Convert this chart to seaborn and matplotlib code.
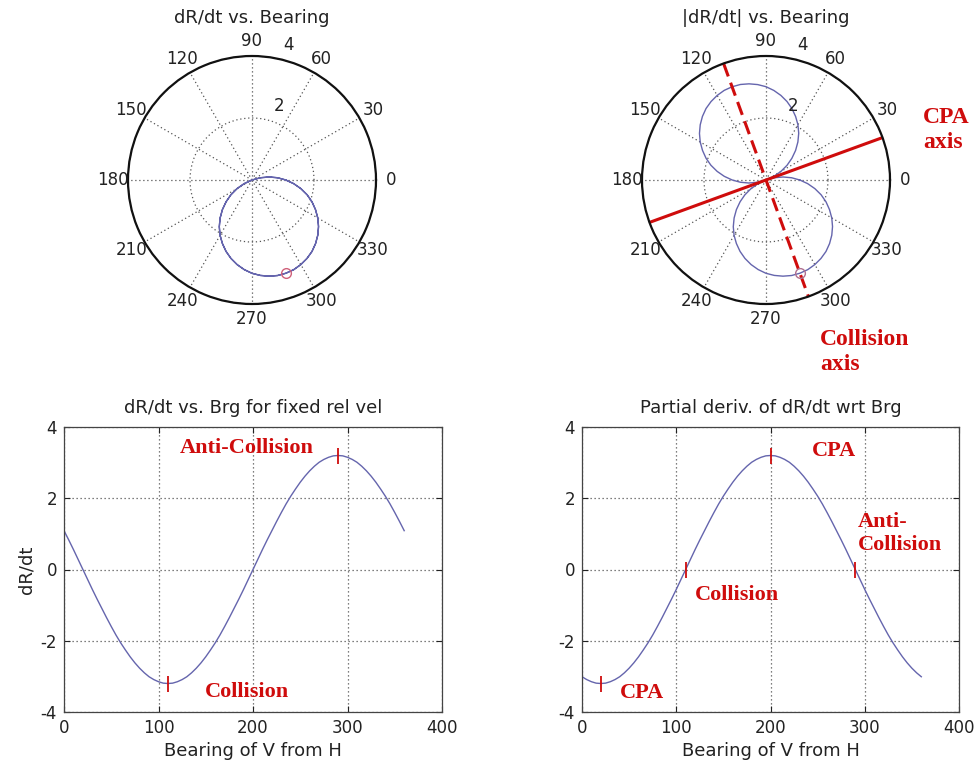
import numpy as np
import matplotlib
matplotlib.use("Agg")
import matplotlib.pyplot as plt
import seaborn as sns

# Bearing of V from H (deg) and the range rate dR/dt for a fixed relative velocity
bearing_deg = list(range(0, 361, 5))
range_rate = [
    1.09, 0.83, 0.56, 0.28, 0.00, -0.28, -0.56, -0.83, -1.09, -1.35,
    -1.60, -1.84, -2.06, -2.26, -2.45, -2.62, -2.77, -2.90, -3.01, -3.09,
    -3.15, -3.19, -3.20, -3.19, -3.15, -3.09, -3.01, -2.90, -2.77, -2.62,
    -2.45, -2.26, -2.06, -1.84, -1.60, -1.35, -1.09, -0.83, -0.56, -0.28,
    0.00, 0.28, 0.56, 0.83, 1.09, 1.35, 1.60, 1.84, 2.06, 2.26,
    2.45, 2.62, 2.77, 2.90, 3.01, 3.09, 3.15, 3.19, 3.20, 3.19,
    3.15, 3.09, 3.01, 2.90, 2.77, 2.62, 2.45, 2.26, 2.06, 1.84,
    1.60, 1.35, 1.09,
]
# Partial derivative of dR/dt with respect to bearing
range_rate_slope = [
    -3.01, -3.09, -3.15, -3.19, -3.20, -3.19, -3.15, -3.09, -3.01, -2.90,
    -2.77, -2.62, -2.45, -2.26, -2.06, -1.84, -1.60, -1.35, -1.09, -0.83,
    -0.56, -0.28, 0.00, 0.28, 0.56, 0.83, 1.09, 1.35, 1.60, 1.84,
    2.06, 2.26, 2.45, 2.62, 2.77, 2.90, 3.01, 3.09, 3.15, 3.19,
    3.20, 3.19, 3.15, 3.09, 3.01, 2.90, 2.77, 2.62, 2.45, 2.26,
    2.06, 1.84, 1.60, 1.35, 1.09, 0.83, 0.56, 0.28, 0.00, -0.28,
    -0.56, -0.83, -1.09, -1.35, -1.60, -1.84, -2.06, -2.26, -2.45, -2.62,
    -2.77, -2.90, -3.01,
]

# Highlighted points
rate_mark_brg = [110, 290]
rate_mark_val = [-3.20, 3.20]
slope_mark_brg = [20, 110, 200, 290]
slope_mark_val = [-3.20, 0.00, 3.20, 0.00]
polar_mark_brg = [290]
polar_mark_val = [3.20]

# CPA / collision axes shown on the |dR/dt| polar plot
cpa_axis_brg = [20, 200]
collision_axis_brg = [110, 290]
axis_length = 4

theta_ticks = list(range(0, 360, 30))
r_max = 4

CURVE = "#6565ad"
RED = "#cf0c0c"
GRID = "#555555"
SANS = ["DejaVu Sans"]
SERIF = ["Liberation Serif", "DejaVu Serif"]

plt.rcParams["font.family"] = SANS
plt.rcParams["axes.unicode_minus"] = False

fig = plt.figure(figsize=(9.77, 7.67), dpi=100)
W, H = 977.0, 767.0


def polar_axes(cx, cy, rad):
    ax = fig.add_axes([(cx - rad) / W, 1 - (cy + rad) / H, 2 * rad / W, 2 * rad / H],
                      projection="polar")
    ax.set_theta_zero_location("E")
    ax.set_theta_direction(1)
    ax.set_ylim(0, r_max)
    ax.set_xticks(np.deg2rad(theta_ticks))
    ax.set_xticklabels([])
    ax.set_yticks([2, 4])
    ax.set_yticklabels([])
    ax.tick_params(length=0)
    ax.grid(True, linestyle=(0, (1, 2.2)), color=GRID, linewidth=0.9)
    ax.spines["polar"].set_linewidth(1.6)
    ax.spines["polar"].set_color("#111111")
    for t in theta_ticks:
        ax.text(np.deg2rad(t), 4.5, str(t), ha="center", va="center",
                fontsize=12, color="#222222", clip_on=False)
    ax.text(np.deg2rad(70), 2.55, "2", ha="center", va="center", fontsize=12,
            color="#222222")
    ax.text(np.deg2rad(75), 4.5, "4", ha="center", va="center", fontsize=12,
            color="#222222", clip_on=False)
    return ax


brg = np.array(bearing_deg, dtype=float)
rate = np.array(range_rate)

# --- dR/dt vs. Bearing (negative radius plotted on the opposite bearing)
ax1 = polar_axes(252, 180, 124)
theta1 = np.deg2rad(np.where(rate < 0, brg + 180, brg))
sns.lineplot(x=theta1, y=np.abs(rate), ax=ax1, sort=False, estimator=None,
             color=CURVE, linewidth=1.0)
ax1.plot(np.deg2rad(polar_mark_brg), polar_mark_val, "o", mfc="none",
         mec="#d0607a", ms=7, mew=1.0)
fig.text(252 / W, 1 - 18 / H, "dR/dt vs. Bearing", ha="center", va="center",
         fontsize=13, color="#222222")

# --- |dR/dt| vs. Bearing
ax2 = polar_axes(766, 180, 124)
sns.lineplot(x=np.deg2rad(brg), y=np.abs(rate), ax=ax2, sort=False, estimator=None,
             color=CURVE, linewidth=1.0)
ax2.plot(np.deg2rad([cpa_axis_brg[0], cpa_axis_brg[0], cpa_axis_brg[1], cpa_axis_brg[1]]),
         [axis_length, 0, 0, axis_length], color=RED, linewidth=2.2,
         solid_capstyle="butt")
ax2.plot(np.deg2rad([collision_axis_brg[0], collision_axis_brg[0],
                     collision_axis_brg[1], collision_axis_brg[1]]),
         [axis_length, 0, 0, axis_length], color=RED, linewidth=2.2,
         linestyle=(0, (4.5, 2.2)))
ax2.plot(np.deg2rad(polar_mark_brg), polar_mark_val, "o", mfc="none",
         mec="#b07090", ms=7, mew=1.0)
fig.text(766 / W, 1 - 18 / H, "|dR/dt| vs. Bearing", ha="center", va="center",
         fontsize=13, color="#222222")
fig.text(923 / W, 1 - 130 / H, "CPA\naxis", ha="left", va="center",
         fontsize=17, color=RED, family=SERIF, fontweight="bold", linespacing=1.3)
fig.text(820 / W, 1 - 352 / H, "Collision\naxis", ha="left", va="center",
         fontsize=17, color=RED, family=SERIF, fontweight="bold", linespacing=1.25)


def cartesian_axes(left_px, right_px, top_px, bottom_px):
    ax = fig.add_axes([left_px / W, 1 - bottom_px / H, (right_px - left_px) / W,
                       (bottom_px - top_px) / H])
    ax.set_xlim(0, 400)
    ax.set_ylim(-4, 4)
    ax.set_xticks([0, 100, 200, 300, 400])
    ax.set_yticks([-4, -2, 0, 2, 4])
    ax.grid(True, linestyle=(0, (1, 2.2)), color=GRID, linewidth=0.9)
    ax.tick_params(direction="in", length=4, top=True, right=True,
                   labelsize=12, colors="#222222", pad=5)
    for s in ax.spines.values():
        s.set_color("#444444")
        s.set_linewidth(0.9)
    ax.set_xlabel("Bearing of V from H", fontsize=13, color="#222222", labelpad=4)
    return ax


# --- dR/dt vs. bearing
ax3 = cartesian_axes(64, 442, 427, 712)
sns.lineplot(x=bearing_deg, y=range_rate, ax=ax3, color=CURVE, linewidth=1.0)
ax3.plot(rate_mark_brg, rate_mark_val, "|", color=RED, ms=11, mew=1.3)
ax3.set_title("dR/dt vs. Brg for fixed rel vel", fontsize=13, color="#222222", pad=10)
ax3.set_ylabel("dR/dt", fontsize=13, color="#222222", labelpad=4)
txt = dict(color=RED, family=SERIF, fontweight="bold", fontsize=16,
           ha="left", va="center")
ax3.text(123, 3.41, "Anti-Collision", **txt)
ax3.text(149, -3.44, "Collision", **txt)

# --- partial derivative vs. bearing
ax4 = cartesian_axes(582, 959, 427, 712)
sns.lineplot(x=bearing_deg, y=range_rate_slope, ax=ax4, color=CURVE, linewidth=1.0)
ax4.plot(slope_mark_brg, slope_mark_val, "|", color=RED, ms=11, mew=1.3)
ax4.set_title("Partial deriv. of dR/dt wrt Brg", fontsize=13, color="#222222", pad=10)
ax4.set_ylabel("")
ax4.text(40, -3.47, "CPA", **txt)
ax4.text(120, -0.72, "Collision", **txt)
ax4.text(244, 3.33, "CPA", **txt)
ax4.text(293, 1.0, "Anti-\nCollision", linespacing=1.2, **txt)

fig.savefig("out.png", dpi=100, facecolor="white")
